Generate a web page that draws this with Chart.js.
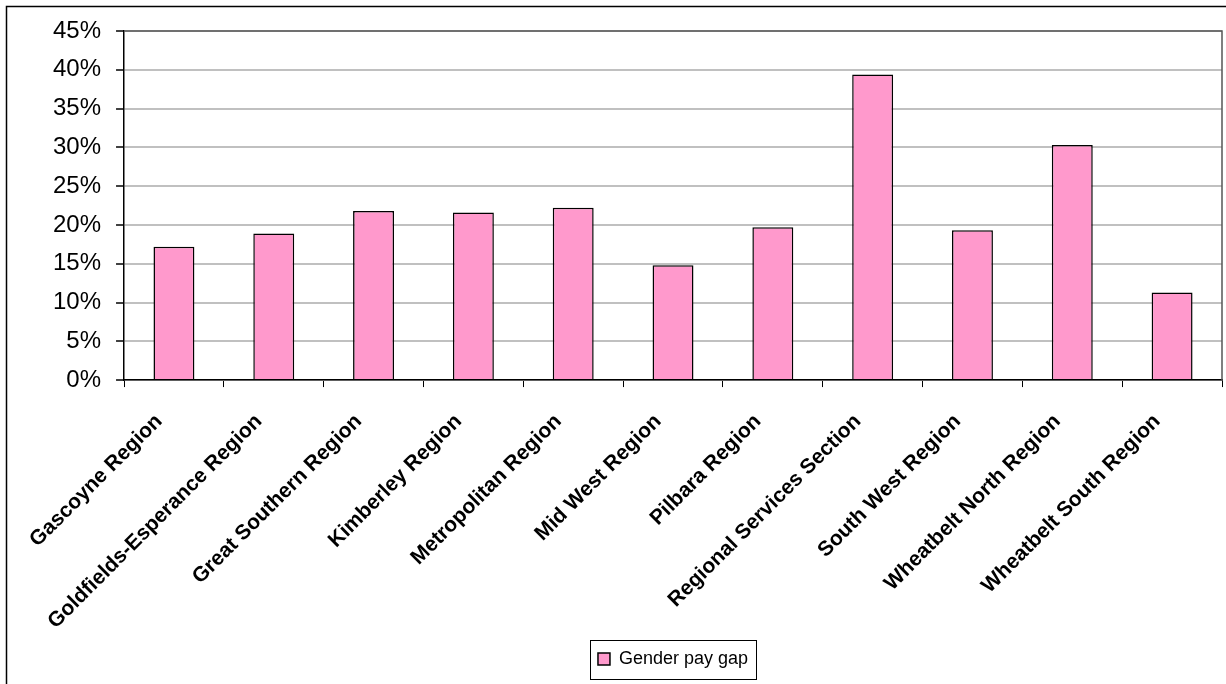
<!DOCTYPE html>
<html>
<head>
<meta charset="utf-8">
<title>Gender pay gap by region</title>
<script src="https://cdn.jsdelivr.net/npm/chart.js@4.4.0/dist/chart.umd.min.js"></script>
<style>
  html, body { margin: 0; padding: 0; background: #fff; }
  #wrap { width: 1226px; height: 684px; }
</style>
</head>
<body>
<div id="wrap"><canvas id="gapChart" width="1226" height="684"></canvas></div>
<script>
// Region names along the x axis
const regions = [
  'Gascoyne Region',
  'Goldfields-Esperance Region',
  'Great Southern Region',
  'Kimberley Region',
  'Metropolitan Region',
  'Mid West Region',
  'Pilbara Region',
  'Regional Services Section',
  'South West Region',
  'Wheatbelt North Region',
  'Wheatbelt South Region'
];

// Gender pay gap per region, in percent
const payGap = [17.2, 18.9, 21.8, 21.6, 22.2, 14.8, 19.7, 39.4, 19.3, 30.3, 11.3];

// Value axis ticks, in percent
const yTicks = [0, 5, 10, 15, 20, 25, 30, 35, 40, 45];

const FONT = 'Arial, "Liberation Sans", sans-serif';
const LEGEND_SIZE = 18;

// Frames around the chart, the plot area and the legend
const framePlugin = {
  id: 'frames',
  afterLayout(chart) {
    // centre the legend under the plot area instead of the whole canvas
    const lg = chart.legend;
    const area = chart.chartArea;
    const shift = (area.left + area.right) / 2 - (lg.left + lg.right) / 2;
    lg.left += shift;
    lg.right += shift;
  },
  afterDraw(chart) {
    const ctx = chart.ctx;
    const area = chart.chartArea;
    ctx.save();
    // outer chart border (only top and left sit inside the canvas)
    ctx.strokeStyle = '#000';
    ctx.lineWidth = 1.5;
    ctx.strokeRect(6.5, 6.5, chart.width + 20, chart.height + 20);
    // plot area top and right edges
    ctx.strokeStyle = '#555';
    ctx.lineWidth = 1.5;
    ctx.beginPath();
    ctx.moveTo(area.left, area.top);
    ctx.lineTo(area.right, area.top);
    ctx.lineTo(area.right, area.bottom);
    ctx.stroke();
    // legend box around the single entry
    const lg = chart.legend;
    const opts = lg.options.labels;
    ctx.font = LEGEND_SIZE + 'px ' + FONT;
    const itemW = opts.boxWidth + LEGEND_SIZE / 2 + ctx.measureText(lg.legendItems[0].text).width;
    const cx = (lg.left + lg.right) / 2;
    const cy = (lg.top + lg.bottom) / 2;
    const w = Math.round(itemW + 16);
    const h = 39;
    ctx.strokeStyle = '#000';
    ctx.lineWidth = 1;
    ctx.strokeRect(Math.round(cx - w / 2) + 0.5, Math.round(cy - h / 2) + 0.5, w, h);
    ctx.restore();
  }
};

new Chart(document.getElementById('gapChart'), {
  type: 'bar',
  data: {
    labels: regions,
    datasets: [{
      label: 'Gender pay gap',
      data: payGap,
      backgroundColor: '#ff99cc',
      borderColor: '#000',
      borderWidth: 1.5,
      categoryPercentage: 1,
      barPercentage: 0.41
    }]
  },
  options: {
    responsive: false,
    animation: false,
    layout: { padding: { left: 38, right: 4, top: 31, bottom: 6 } },
    plugins: {
      title: { display: false },
      tooltip: { enabled: false },
      legend: {
        display: true,
        position: 'bottom',
        labels: {
          color: '#000',
          font: { family: FONT, size: LEGEND_SIZE },
          boxWidth: 12,
          boxHeight: 12,
          padding: 10
        }
      }
    },
    scales: {
      x: {
        offset: true,
        grid: {
          offset: true,
          drawOnChartArea: false,
          drawTicks: true,
          tickLength: 7,
          color: '#000',
          lineWidth: 1
        },
        border: { color: '#000', width: 1.5 },
        ticks: {
          color: '#000',
          autoSkip: false,
          minRotation: 45,
          maxRotation: 45,
          padding: 22,
          labelOffset: -15,
          font: { family: FONT, size: 21, weight: 'bold' }
        },
        // the rotated labels may run into the space above the legend
        afterFit(scale) {
          scale.height -= 16;
        }
      },
      y: {
        min: 0,
        max: 45,
        afterBuildTicks(axis) {
          axis.ticks = yTicks.map(v => ({ value: v }));
        },
        grid: {
          color: '#c0c0c0',
          lineWidth: 2,
          tickColor: '#000',
          tickLength: 8,
          tickWidth: 1.5
        },
        border: { color: '#000', width: 1.5 },
        ticks: {
          color: '#000',
          padding: 15,
          font: { family: FONT, size: 24 },
          callback: v => v + '%'
        }
      }
    }
  },
  plugins: [framePlugin]
});
</script>
</body>
</html>
